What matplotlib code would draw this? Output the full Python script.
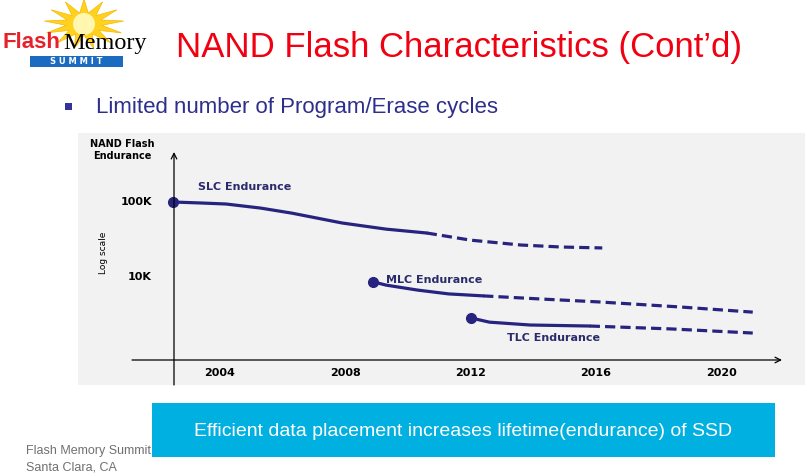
import matplotlib
matplotlib.use("Agg")
import matplotlib.pyplot as plt
import numpy as np
from matplotlib.patches import Polygon, Rectangle

# endurance curves (year, P/E cycles), solid = observed, dashed = projected
slc_years = [2002.5, 2003.4, 2004.2, 2005.3, 2006.3, 2007.9, 2009.3, 2010.6]
slc_vals = [100000, 97000, 94000, 83000, 71000, 52500, 43500, 38600]
slc_proj_years = [2010.6, 2012.0, 2013.6, 2014.9, 2016.2]
slc_proj_vals = [38600, 31000, 26700, 25100, 24400]

mlc_years = [2008.9, 2009.3, 2010.3, 2011.3, 2012.4]
mlc_vals = [8600, 7800, 6700, 5950, 5600]
mlc_proj_years = [2012.4, 2014.2, 2016.1, 2018.7, 2021.0]
mlc_proj_vals = [5600, 5100, 4650, 3980, 3400]

tlc_years = [2012.0, 2012.6, 2013.9, 2015.8]
tlc_vals = [2850, 2500, 2290, 2220]
tlc_proj_years = [2015.8, 2018.4, 2021.0]
tlc_proj_vals = [2220, 2030, 1790]

year_ticks = [2004, 2008, 2012, 2016, 2020]
value_ticks = [100000, 10000]
value_labels = ["100K", "10K"]

W, H = 807, 476
NAVY = "#26247e"
LABEL = "#2b2b6b"


def fx(px):
    return px / W


def fy(py):
    return 1 - py / H


fig = plt.figure(figsize=(W / 100, H / 100), dpi=100)
fig.patch.set_facecolor("white")

# background layer in pixel coords for slide decoration
bg = fig.add_axes([0, 0, 1, 1])
bg.set_xlim(0, W)
bg.set_ylim(H, 0)
bg.axis("off")

# logo starburst
n = 13
ang = np.linspace(0, 2 * np.pi, 2 * n, endpoint=False) + np.pi / 2
rad = np.where(np.arange(2 * n) % 2 == 0, 1.0, 0.45)
cx, cy = 84, 24
star = np.column_stack([cx + 40 * rad * np.cos(ang), cy - 25 * rad * np.sin(ang)])
bg.add_patch(Polygon(star, closed=True, facecolor="#ffd21f", edgecolor="#f5b800", lw=0.5))
bg.add_patch(plt.Circle((cx, cy), 11, facecolor="#fff6b0", edgecolor="none"))
bg.text(3, 43, "Flash", color="#e8202a", fontsize=16, fontweight="bold",
        family="Liberation Sans", ha="left", va="center")
bg.text(63, 44, "Memory", color="black", fontsize=17.5,
        family="Liberation Serif", ha="left", va="center")
bg.add_patch(Rectangle((30, 56), 93, 11, facecolor="#1b6cc0", edgecolor="none"))
bg.text(76, 61.5, "S U M M I T", color="white", fontsize=6, fontweight="bold",
        ha="center", va="center")

fig.text(fx(176), fy(47), "NAND Flash Characteristics (Cont\u2019d)", color="#f00010",
         fontsize=25, family="Liberation Sans", ha="left", va="center")

bg.add_patch(Rectangle((65, 103), 7, 7, facecolor="#333399", edgecolor="none"))
fig.text(fx(96), fy(107), "Limited number of Program/Erase cycles", color="#2e2e8c",
         fontsize=16, family="Liberation Sans", ha="left", va="center")

# bottom banner + footer
bg.add_patch(Rectangle((152, 403), 623, 54, facecolor="#00b0e0", edgecolor="none"))
fig.text(fx(463), fy(432), "Efficient data placement increases lifetime(endurance) of SSD",
         color="white", fontsize=14, family="Liberation Sans",
         ha="center", va="center")
fig.text(fx(26), fy(451), "Flash Memory Summit", color="#707070", fontsize=9,
         family="Liberation Sans", ha="left", va="center")
fig.text(fx(26), fy(467), "Santa Clara, CA", color="#707070", fontsize=9,
         family="Liberation Sans", ha="left", va="center")

# chart panel
ax = fig.add_axes([fx(78), fy(385), fx(805 - 78), (385 - 133) / H])
ax.set_facecolor("#f2f2f2")
for s in ax.spines.values():
    s.set_visible(False)
ax.set_yscale("log")
px_per_year = 31.35


def year_at(px):
    return 2012 + (px - 470.6) / px_per_year


def val_at(py):
    return 10 ** (5 - (py - 202) / 75)


ax.set_xlim(year_at(78), year_at(805))
ax.set_ylim(val_at(385), val_at(133))
ax.set_xticks([])
ax.set_yticks([])
ax.minorticks_off()

# axes with arrow heads
y_axis_year = year_at(174)
x_axis_val = val_at(360)
ax.annotate("", xy=(year_at(782), x_axis_val), xytext=(year_at(132), x_axis_val),
            arrowprops=dict(arrowstyle="->", lw=0.9, color="black", shrinkA=0, shrinkB=0))
ax.annotate("", xy=(y_axis_year, val_at(152)), xytext=(y_axis_year, val_at(385)),
            arrowprops=dict(arrowstyle="->", lw=0.9, color="black", shrinkA=0, shrinkB=0))

for xs, ys, pxs, pys in [(slc_years, slc_vals, slc_proj_years, slc_proj_vals),
                         (mlc_years, mlc_vals, mlc_proj_years, mlc_proj_vals),
                         (tlc_years, tlc_vals, tlc_proj_years, tlc_proj_vals)]:
    ax.plot(xs, ys, color=NAVY, lw=2.3, solid_capstyle="round", solid_joinstyle="round")
    ax.plot(pxs, pys, color=NAVY, lw=2.3, dashes=(3.2, 1.6))
    ax.plot(xs[0], ys[0], "o", color=NAVY, ms=7)

ax.text(year_at(198), val_at(187), "SLC Endurance", color=LABEL, fontsize=8,
        fontweight="bold", ha="left", va="center")
ax.text(year_at(386), val_at(280), "MLC Endurance", color=LABEL, fontsize=8,
        fontweight="bold", ha="left", va="center")
ax.text(year_at(507), val_at(338), "TLC Endurance", color=LABEL, fontsize=8,
        fontweight="bold", ha="left", va="center")

tb = ax.get_xaxis_transform()
for yr in year_ticks:
    ax.text(yr, (385 - 373) / 252, str(yr), transform=tb, fontsize=8,
            fontweight="bold", ha="center", va="center")
for v, lab in zip(value_ticks, value_labels):
    ax.text((152 - 78) / 727, v, lab, transform=ax.get_yaxis_transform(),
            fontsize=8, fontweight="bold", ha="right", va="center")

ax.text((122 - 78) / 727, (385 - 150) / 252, "NAND Flash\nEndurance", transform=ax.transAxes,
        fontsize=7, fontweight="bold", ha="center", va="center", linespacing=1.35)
ax.text((103 - 78) / 727, (385 - 253) / 252, "Log scale", transform=ax.transAxes,
        fontsize=6.5, rotation=90, ha="center", va="center")

fig.savefig("out.png", dpi=100)
